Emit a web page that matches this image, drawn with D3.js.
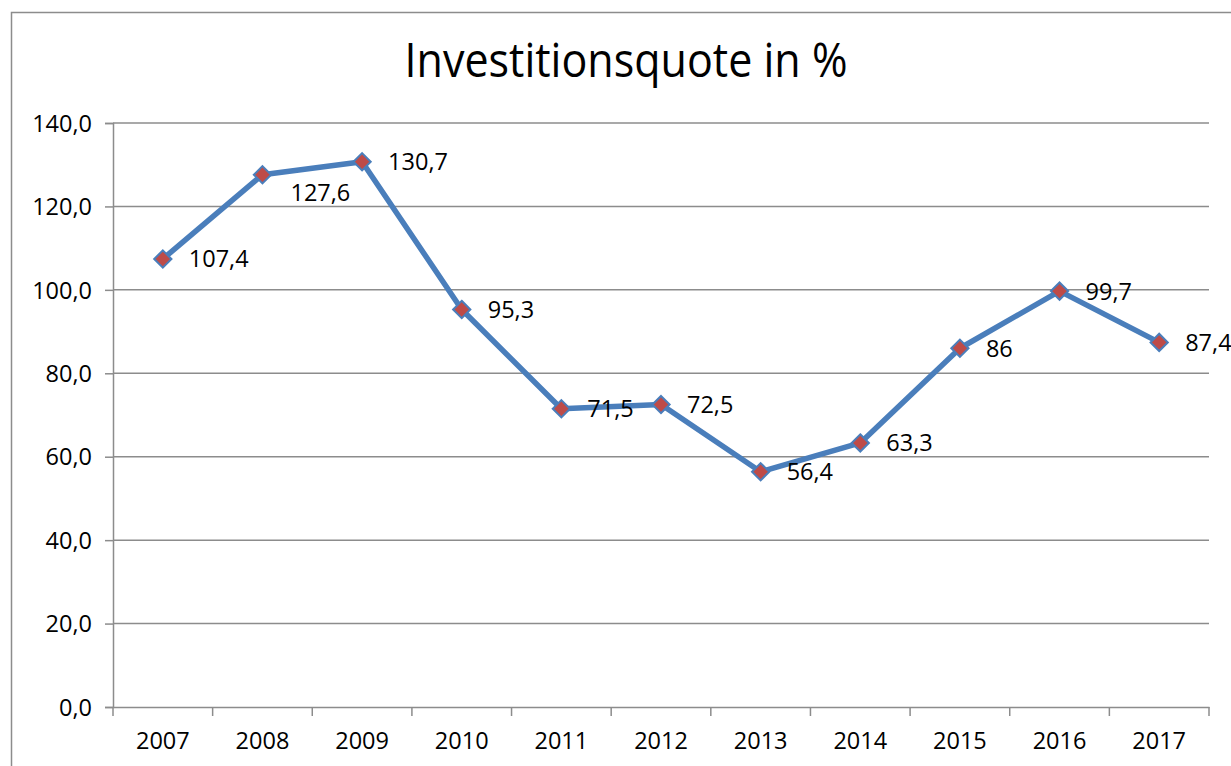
<!DOCTYPE html>
<html><head><meta charset="utf-8">
<script src="https://cdn.jsdelivr.net/npm/d3@7"></script>
<style>body{margin:0;background:#fff;}svg{display:block;}</style>
</head><body>
<script>
const years = ["2007","2008","2009","2010","2011","2012","2013","2014","2015","2016","2017"];
const values = [107.4,127.6,130.7,95.3,71.5,72.5,56.4,63.3,86,99.7,87.4];
const valueLabels = ["107,4","127,6","130,7","95,3","71,5","72,5","56,4","63,3","86","99,7","87,4"];
const yTicks = [0,20,40,60,80,100,120,140];
const title = "Investitionsquote in %";

const W = 1231, H = 766;
const font = "'Open Sans', sans-serif";
const svg = d3.select("body").append("svg").attr("width", W).attr("height", H);

svg.append("rect").attr("x", 11.5).attr("y", 12.5).attr("width", 1260).attr("height", 800)
  .attr("fill", "#fff").attr("stroke", "#8c8c8c").attr("stroke-width", 1.5);

const m = {left: 113, right: 1209, top: 123, bottom: 707};
const x = d3.scaleBand().domain(years).range([m.left, m.right]);
const y = d3.scaleLinear().domain([0, 140]).range([m.bottom, m.top]);

// gridlines
svg.append("g").selectAll("line").data(yTicks.filter(d => d > 0)).join("line")
  .attr("x1", m.left).attr("x2", m.right)
  .attr("y1", d => y(d)).attr("y2", d => y(d))
  .attr("stroke", "#8c8c8c").attr("stroke-width", 1.5);

// y axis
const yAxis = svg.append("g").attr("transform", `translate(${m.left},0)`)
  .call(d3.axisLeft(y).tickValues(yTicks).tickSize(8).tickPadding(13)
    .tickFormat(d => d3.format(".1f")(d).replace(".", ",")));
yAxis.select(".domain").attr("stroke", "#8c8c8c").attr("stroke-width", 1.5);
yAxis.selectAll(".tick line").attr("stroke", "#8c8c8c").attr("stroke-width", 1.5);
yAxis.selectAll("text").attr("font-family", font).attr("font-size", 23.5).attr("fill", "#000").attr("dy", "0.35em");

// x axis
const xAxis = svg.append("g").attr("transform", `translate(0,${m.bottom})`)
  .call(d3.axisBottom(x).tickSize(0).tickPadding(25));
xAxis.select(".domain").attr("stroke", "#8c8c8c").attr("stroke-width", 1.5);
xAxis.selectAll("text").attr("font-family", font).attr("font-size", 23.5).attr("fill", "#000");
svg.append("g").selectAll("line").data(d3.range(years.length + 1)).join("line")
  .attr("x1", i => m.left + i * x.step()).attr("x2", i => m.left + i * x.step())
  .attr("y1", m.bottom).attr("y2", m.bottom + 9)
  .attr("stroke", "#8c8c8c").attr("stroke-width", 1.5);

// line
const cx = (d, i) => x(years[i]) + x.bandwidth() / 2;
svg.append("path").datum(values)
  .attr("d", d3.line().x(cx).y(d => y(d)))
  .attr("fill", "none").attr("stroke", "#4a7ebb").attr("stroke-width", 5.5)
  .attr("stroke-linejoin", "round");

// markers
svg.append("g").selectAll("path").data(values).join("path")
  .attr("transform", (d, i) => `translate(${cx(d, i)},${y(d)})`)
  .attr("d", d3.symbol().type(d3.symbolDiamond2).size(190))
  .attr("fill", "#be4b48").attr("stroke", "#4a7ebb").attr("stroke-width", 2);

// labels
svg.append("g").selectAll("text").data(values).join("text")
  .attr("x", (d, i) => cx(d, i) + 26 + (i === 1 ? 2 : 0))
  .attr("y", (d, i) => y(d) + (i === 1 ? 18 : 0))
  .attr("dy", "0.36em")
  .attr("font-family", font).attr("font-size", 23.5).attr("fill", "#000")
  .text((d, i) => valueLabels[i]);

// title
svg.append("text").attr("x", 626).attr("y", 77)
  .attr("text-anchor", "middle").attr("font-family", font).attr("font-size", 47)
  .attr("fill", "#000").attr("textLength", 443).attr("lengthAdjust", "spacingAndGlyphs")
  .text(title);
</script>
</body></html>
